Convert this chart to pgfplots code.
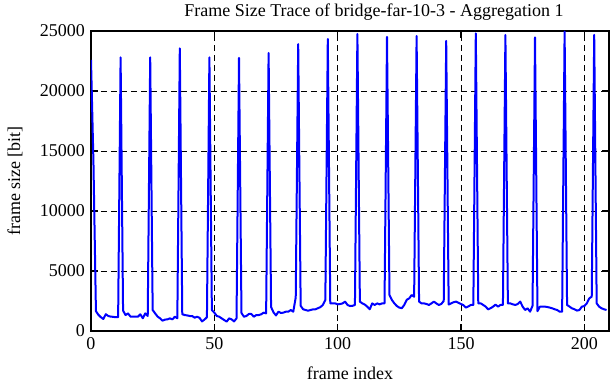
\documentclass[border=0pt]{standalone}
\usepackage{fontspec}
\setmainfont{Liberation Serif}
\usepackage{pgfplots}
\usepackage{pgfplotstable}
\pgfplotsset{compat=1.18}
\pgfplotstableread{
f v
0 22600
1 14000
2 1650
3 1350
4 1150
5 1000
6 1400
7 1250
8 1200
9 1180
10 1150
11 1150
12 22800
13 1700
14 1330
15 1470
16 1200
17 1190
18 1190
19 1190
20 1390
21 1060
22 1470
23 1250
24 22800
25 1750
26 1470
27 1200
28 1060
29 860
30 950
31 970
32 1050
33 970
34 1190
35 1060
36 23550
37 1400
38 1330
39 1300
40 1250
41 1250
42 1110
43 1190
44 1100
45 800
46 950
47 1150
48 22800
49 1750
50 1530
51 1250
52 1190
53 1050
54 915
55 780
56 1050
57 970
58 800
59 1055
60 22750
61 1500
62 1190
63 1250
64 1420
65 1420
66 1190
67 1330
68 1330
69 1390
70 1530
71 1470
72 23170
73 2000
74 1550
75 1300
76 1610
77 1500
78 1530
79 1610
80 1610
81 1750
82 1610
83 2800
84 23900
85 2100
86 1810
87 1750
88 1690
89 1750
90 1800
91 1810
92 1900
93 1990
94 2170
95 2580
96 24330
97 2300
98 2300
99 2300
100 2220
101 2250
102 2300
103 2450
104 2170
105 2080
106 2100
107 2170
108 24750
109 2450
110 2300
111 2200
112 2030
113 1810
114 2300
115 2170
116 2300
117 2220
118 2300
119 2300
120 24500
121 3000
122 2580
123 2300
124 2080
125 1950
126 1900
127 2170
128 2600
129 2720
130 3000
131 2860
132 24580
133 2450
134 2300
135 2300
136 2250
137 2170
138 2300
139 2450
140 2300
141 2170
142 2250
143 2500
144 24170
145 2200
146 2300
147 2400
148 2450
149 2350
150 2250
151 2150
152 1950
153 2050
154 2170
155 2170
156 24800
157 2300
158 2300
159 2170
160 2030
161 1800
162 1900
163 2030
164 2200
165 2030
166 2170
167 2170
168 24670
169 2300
170 2300
171 2220
172 2170
173 2250
174 2450
175 2030
176 1750
177 1890
178 1610
179 2100
180 24470
181 1650
182 2030
183 2030
184 2030
185 2000
186 1950
187 1890
188 1810
189 1750
190 1610
191 1610
192 24950
193 2170
194 2030
195 1890
196 1810
197 1700
198 1750
199 2030
200 2080
201 2300
202 2720
203 2860
204 24670
205 2300
206 2030
207 1890
208 1810
209 1750
}\trace
\begin{document}
\fontsize{18}{21}\selectfont
\begin{tikzpicture}
\useasboundingbox (-91pt,-51pt) rectangle (521pt,331pt);
\begin{axis}[
 at={(0,0)}, anchor=south west,
 scale only axis, width=518pt, height=300pt,
 xmin=0, xmax=210, ymin=0, ymax=25000,
 xtick={0,50,...,200}, ytick={0,5000,...,25000},
 scaled y ticks=false,
 /pgf/number format/assume math mode=true,
 /pgf/number format/1000 sep={},
 grid=major,
 grid style={black, line width=0.8pt, dash pattern=on 6pt off 4pt},
 axis line style={line width=1.5pt},
 major tick style={line width=1.5pt, black},
 major tick length=7pt,
 tick align=inside,
 title={Frame Size Trace of bridge-far-10-3 - Aggregation 1},
 xlabel={frame index}, ylabel={frame size [bit]},
 every axis title/.style={at={(axis description cs:0.5,1)}, anchor=center, xshift=24pt, yshift=19pt},
 every axis x label/.style={at={(axis description cs:0.5,0)}, anchor=center, yshift=-42pt},
 every axis y label/.style={at={(axis description cs:0,0.5)}, anchor=center, xshift=-76pt, rotate=90},
]
\addplot[color={rgb,255:red,0;green,0;blue,255}, line width=2pt, line join=round, mark=none] table[x=f,y=v] {\trace};
\end{axis}
\end{tikzpicture}
\end{document}
